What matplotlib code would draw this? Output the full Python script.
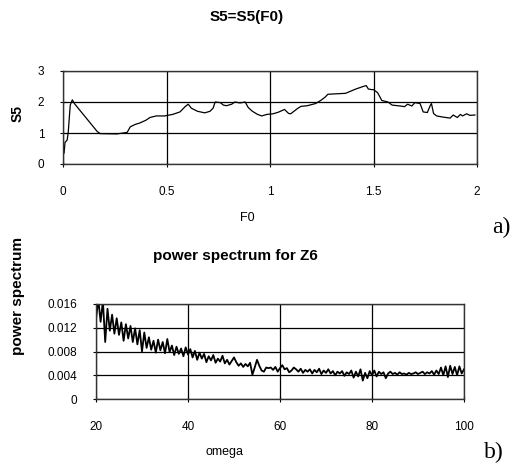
import numpy as np
import matplotlib
matplotlib.use("Agg")
import matplotlib.pyplot as plt

plt.rcParams['font.family'] = ['Liberation Sans', 'DejaVu Sans']

# --- panel a) S5 as a function of F0
f0 = [0.005, 0.01, 0.02, 0.025, 0.035, 0.045, 0.055, 0.165, 0.18, 0.26, 0.31,
      0.325, 0.35, 0.37, 0.40, 0.42, 0.45, 0.49, 0.53, 0.565, 0.59, 0.605,
      0.62, 0.65, 0.685, 0.71, 0.725, 0.735, 0.76, 0.775, 0.79, 0.815, 0.83,
      0.855, 0.88, 0.895, 0.915, 0.94, 0.96, 0.985, 1.015, 1.04, 1.07, 1.09,
      1.10, 1.135, 1.15, 1.18, 1.22, 1.245, 1.265, 1.28, 1.365, 1.39, 1.415,
      1.45, 1.465, 1.475, 1.49, 1.50, 1.52, 1.54, 1.57, 1.59, 1.63, 1.65,
      1.665, 1.685, 1.70, 1.725, 1.74, 1.76, 1.775, 1.78, 1.79, 1.805, 1.83,
      1.87, 1.885, 1.905, 1.92, 1.93, 1.95, 1.965, 1.99]
s5 = [0.35, 0.7, 0.77, 1.0, 1.9, 2.07, 1.95, 1.05, 0.98, 0.97, 1.02,
      1.2, 1.28, 1.32, 1.41, 1.5, 1.55, 1.55, 1.6, 1.68, 1.85, 1.93,
      1.8, 1.7, 1.65, 1.7, 1.8, 2.0, 1.98, 1.9, 1.88, 1.93, 2.0,
      1.97, 2.0, 1.82, 1.7, 1.6, 1.55, 1.6, 1.62, 1.67, 1.76, 1.63,
      1.62, 1.8, 1.86, 1.88, 1.95, 2.05, 2.15, 2.25, 2.28, 2.35, 2.42,
      2.5, 2.53, 2.42, 2.4, 2.4, 2.3, 2.05, 2.0, 1.9, 1.87, 1.85,
      1.93, 1.87, 1.98, 1.95, 1.68, 1.66, 1.9, 1.95, 1.63, 1.55, 1.52,
      1.48, 1.58, 1.5, 1.6, 1.55, 1.62, 1.57, 1.58]
a_xticks = [0, 0.5, 1, 1.5, 2]
a_xlabels = ['0', '0.5', '1', '1.5', '2']
a_yticks = [0, 1, 2, 3]

# --- panel b) power spectrum for Z6 (values in 1e-3), omega = 20..100 step 0.5
ps_milli = [
    13.5, 16.8, 13.0, 16.5, 9.6, 15.2, 11.5, 14.2, 11.0, 13.6,
    10.8, 12.9, 9.8, 12.6, 10.2, 12.3, 9.6, 11.9, 9.2, 11.6,
    8.0, 11.2, 8.6, 10.4, 8.3, 9.8, 7.8, 10.0, 8.2, 9.6,
    7.7, 10.1, 7.9, 9.0, 7.4, 8.8, 7.6, 8.5, 7.2, 8.7,
    7.5, 8.4, 7.0, 8.1, 6.6, 7.8, 6.8, 7.6, 6.2, 7.2,
    6.5, 7.4, 6.1, 6.8, 6.3, 7.3, 6.0, 6.6, 5.8, 6.4,
    7.0, 6.2, 5.6, 6.0, 5.4, 5.9, 5.5, 6.1, 4.1, 5.3,
    6.6, 5.6, 4.8, 4.6, 5.3, 5.2, 5.3, 4.9, 5.4, 4.6,
    5.2, 5.7, 5.0, 5.2, 4.5, 4.8, 5.3, 5.0, 4.6, 5.1,
    4.4, 4.9, 4.6, 5.0, 4.3, 4.9, 4.5, 5.1, 4.2, 4.8,
    4.4, 5.0, 4.3, 4.7, 4.0, 4.6, 4.3, 4.7, 3.9, 4.5,
    4.2, 4.8, 3.6, 4.6, 3.8, 5.0, 3.1, 4.4, 3.5, 4.7,
    4.0, 4.8, 3.8, 4.6, 4.2, 4.5, 3.5, 4.3, 4.6, 4.2,
    4.4, 4.1, 4.5, 4.2, 4.3, 4.1, 4.4, 4.2, 4.3, 4.5,
    4.2, 4.4, 4.6, 4.2, 4.5, 4.3, 4.7, 4.1, 4.8, 4.2,
    5.3, 4.0, 5.5, 3.7, 5.6, 4.2, 5.4, 4.0, 5.5, 4.3,
    5.0]
omega = np.arange(len(ps_milli)) * 0.5 + 20
b_xticks = [20, 40, 60, 80, 100]
b_yticks = [0, 0.004, 0.008, 0.012, 0.016]
b_ylabels = ['0', '0.004', '0.008', '0.012', '0.016']

W, H = 517, 465
fig = plt.figure(figsize=(W / 100, H / 100), dpi=100)


def px(x, y):
    return x / W, 1 - y / H


def style(ax):
    for s in ax.spines.values():
        s.set_color('#333333')
        s.set_linewidth(1.0)
    ax.grid(True, color='black', linewidth=0.9)
    ax.set_axisbelow(True)
    ax.tick_params(direction='inout', length=5, width=0.8, labelsize=8.5,
                   colors='black')
    ax.tick_params(axis='y', pad=11)
    ax.tick_params(axis='x', pad=13)


ax1 = fig.add_axes([63 / W, 1 - 164 / H, 414 / W, 93 / H])
ax1.plot(f0, s5, color='black', linewidth=0.9)
ax1.set_xlim(0, 2)
ax1.set_ylim(0, 3)
ax1.set_xticks(a_xticks)
ax1.set_xticklabels(a_xlabels)
ax1.set_yticks(a_yticks)
style(ax1)

ax2 = fig.add_axes([96 / W, 1 - 399 / H, 368 / W, 95 / H])
ax2.plot(omega, np.array(ps_milli) / 1000, color='black', linewidth=1.3)
ax2.set_xlim(20, 100)
ax2.set_ylim(0, 0.016)
ax2.set_xticks(b_xticks)
ax2.set_yticks(b_yticks)
ax2.set_yticklabels(b_ylabels)
style(ax2)

fig.text(*px(247, 17), 'S5=S5(F0)', ha='center', va='center',
         fontsize=11, fontweight='bold')
fig.text(*px(247, 218), 'F0', ha='center', va='center', fontsize=9)
fig.text(*px(18, 113), 'S5', ha='center', va='center', fontsize=10,
         fontweight='bold', rotation=90)
fig.text(*px(501, 227), 'a)', ha='center', va='center', fontsize=17,
         family='Liberation Serif')

fig.text(*px(235, 256), 'power spectrum for Z6', ha='center', va='center',
         fontsize=11, fontweight='bold')
fig.text(*px(225, 452), 'omega', ha='center', va='center', fontsize=9)
fig.text(*px(18, 296), 'power spectrum', ha='center', va='center',
         fontsize=11, fontweight='bold', rotation=90)
fig.text(*px(494, 452), 'b)', ha='center', va='center', fontsize=17,
         family='Liberation Serif')

fig.savefig('out.png', dpi=100)
